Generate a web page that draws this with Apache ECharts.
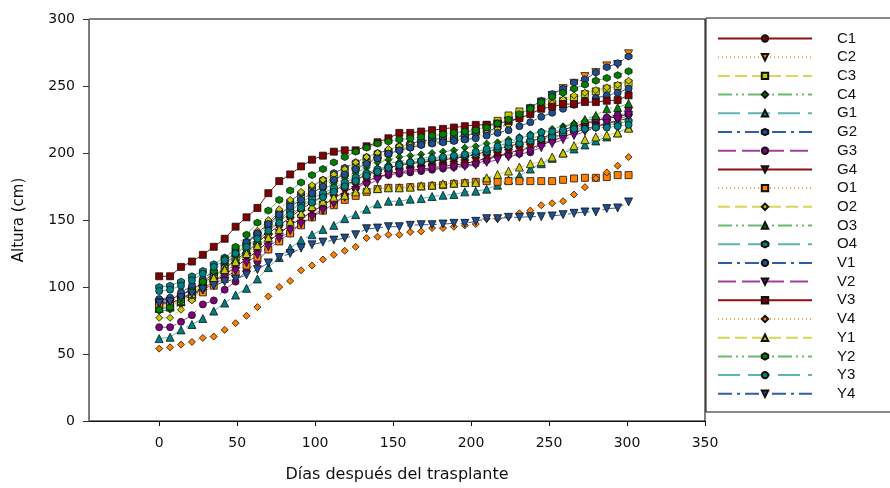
<!DOCTYPE html>
<html>
<head>
<meta charset="utf-8">
<script src="https://cdn.jsdelivr.net/npm/echarts@6/dist/echarts.min.js"></script>
<style>
  html, body { margin: 0; padding: 0; background: #fff; }
  #chart { width: 890px; height: 488px; }
</style>
</head>
<body>
<div id="chart"></div>
<script>
// days after transplant (x)
const days = [0, 7, 14, 21, 28, 35, 42, 49, 56, 63, 70, 77, 84, 91, 98, 105, 112, 119, 126, 133, 140, 147,
  154, 161, 168, 175, 182, 189, 196, 203, 210, 217, 224, 231, 238, 245, 252, 259, 266, 273, 280, 287, 294, 301];

const xTicks = [0, 50, 100, 150, 200, 250, 300, 350];
const yTicks = [0, 50, 100, 150, 200, 250, 300];

const names = ["C1", "C2", "C3", "C4", "G1", "G2", "G3", "G4", "O1", "O2", "O3", "O4", "V1", "V2", "V3", "V4", "Y1", "Y2", "Y3", "Y4"];

// altura (cm)
const C1 = [90, 91, 94, 98, 103, 108, 114, 120, 126, 133, 140, 146, 152, 158, 163, 168, 172, 176, 180, 184, 187, 189,
  191, 192, 193, 194, 195, 196, 197, 199, 201, 203, 205, 207, 209, 211, 214, 217, 220, 222, 224, 226, 227, 229];
const C2 = [85, 86, 89, 93, 98, 103, 109, 115, 122, 129, 137, 145, 153, 160, 166, 172, 177, 181, 186, 190, 194, 197,
  200, 204, 206, 209, 210, 212, 213, 215, 218, 221, 224, 228, 233, 238, 243, 248, 252, 257, 260, 265, 266, 274];
const C3 = [86, 87, 91, 96, 102, 108, 115, 122, 130, 138, 146, 154, 161, 167, 172, 177, 181, 185, 189, 193, 197, 200,
  203, 205, 207, 208, 209, 210, 211, 216, 221, 224, 228, 231, 233, 235, 237, 239, 241, 244, 246, 248, 250, 252];
const C4 = [82, 83, 87, 92, 98, 104, 111, 118, 126, 134, 142, 150, 157, 163, 168, 173, 177, 181, 185, 189, 193, 195,
  197, 198, 199, 200, 201, 202, 204, 205, 207, 208, 210, 212, 214, 216, 218, 220, 222, 224, 226, 227, 228, 230];
const G1 = [61.5, 62.5, 68, 72, 76.5, 82, 88, 94, 99, 106, 114.5, 122, 129, 135, 139, 143, 146, 151, 154, 158, 162, 164,
  164, 165.5, 166, 167.5, 168.5, 169, 171, 171.5, 173, 176, 180, 183, 188, 192, 196, 200, 203, 206, 209, 212, 215, 219];
const G2 = [89, 90, 94, 99, 104, 110, 117, 124, 132, 140, 148, 156, 164, 170, 175, 180, 185, 189, 193, 197, 200, 202,
  205, 207, 209, 210, 211, 212, 213, 215, 216, 219, 222, 227, 234, 239, 244, 248, 252.5, 255, 260, 264, 267, 272];
const G3 = [70, 70, 74, 79, 87, 90, 98, 104, 112, 119, 128, 134.5, 140, 147.5, 153, 158.5, 162.5, 168, 173.5, 178, 182, 183.5,
  184.5, 185.5, 186.5, 187.5, 188.5, 189.5, 191, 192, 194.5, 198, 198.5, 199.5, 200.5, 207, 209.5, 215.5, 218, 221.5, 225.5, 226.5, 228.5, 233.5];
const G4 = [87, 88, 91, 95, 99, 104, 109, 115, 121, 127, 134, 140, 146, 151, 156, 161, 166, 171, 175, 179, 182, 184.5,
  186, 187, 188, 189, 190, 191, 192, 194, 196, 198, 200, 202, 204, 206, 209, 212, 215, 218, 220, 222, 224, 226];
const O1 = [86, 87, 89, 92, 96, 101, 106, 110, 116, 122, 128, 134, 140, 146, 152, 157, 161, 165, 168, 171, 173, 174,
  174, 174.5, 175, 175.5, 176, 177, 177.5, 178.5, 179, 178.5, 179, 179, 179, 179, 179, 180, 181, 181.5, 181.5, 182, 183.5, 183.5];
const O2 = [77, 77, 83, 90, 98, 106, 115, 124, 133, 142, 150, 158, 165, 171, 176, 180, 184, 188, 193, 197, 200, 203,
  205, 206, 207, 208, 209, 210, 210.5, 212, 215, 218, 221, 225, 229, 234, 237, 240, 243, 245, 247, 249, 251, 254];
const O3 = [84, 85, 89, 95, 101, 107, 114, 121, 128, 135, 142, 149, 155, 160, 165, 170, 174, 178, 182, 186, 189, 192,
  194, 195, 196, 197, 198, 199, 200, 201, 203, 205, 207, 209, 211, 213, 216, 219, 222, 225, 228, 233, 234, 237];
const O4 = [100, 101, 104, 108, 112, 117, 122, 128, 134, 140, 146, 152, 157, 162, 166, 170, 174, 178, 182, 185, 188, 190,
  192, 193, 194, 195, 196, 197, 198, 199, 201, 203, 205, 207, 209, 210.5, 212, 214, 216, 218, 219, 221, 222, 224];
const V1 = [91, 92, 96, 101, 106, 112, 119, 126, 133, 140, 147, 154, 160, 165, 170, 175, 180, 184, 188, 192, 196, 199.5,
  202, 204, 206, 207, 208, 209, 210, 211, 213, 215, 217, 220, 223, 227, 230, 233, 236, 239, 241, 243, 245, 248];
const V2 = [88, 88, 91, 94, 98, 102, 107, 112, 118, 124, 130, 136, 142, 147, 152, 157, 162, 167, 172, 176, 180, 183.5,
  185, 186, 187, 188, 188.5, 189, 190, 191, 193, 195, 197, 199, 201, 204, 207, 210, 213, 216, 219, 222, 225, 228];
const V3 = [108, 108, 115, 119, 124, 130, 136, 145, 152, 159, 170, 179, 184, 190, 195, 198, 201, 202, 202, 205, 208, 211,
  215, 215, 216, 217, 218, 219, 220, 221, 221, 222, 224, 226, 229, 233, 234.5, 236.5, 236.5, 238, 238, 239, 239.5, 243];
const V4 = [54, 55, 57, 59, 62, 63, 68, 73, 78.5, 85, 93, 100, 104.5, 112.5, 116, 120.5, 124, 127, 130, 136.5, 137.5, 139,
  139, 141, 141.5, 144, 144, 145, 146, 147, 151, 151, 152.5, 155, 157, 161, 162.5, 164, 169, 174.5, 181, 185.5, 190.5, 197];
const Y1 = [85, 86, 90, 95, 101, 107, 113, 119, 125, 131, 137, 143, 149, 155, 160, 164, 167, 168.5, 171, 173, 173.5, 174,
  174, 174.5, 175.5, 176, 177, 177.5, 178, 178, 181.5, 184, 186.5, 189.5, 192, 193.5, 197, 200, 205.5, 210, 212, 213.5, 215, 218.5];
const Y2 = [83, 85, 90, 97, 104, 112, 121, 130, 139, 148, 157, 165, 172, 178, 183.5, 188, 193, 197, 201, 204, 207, 208.5,
  210, 211, 212, 213, 214, 215, 216, 217, 219, 222, 225, 229, 233, 238, 242, 245, 248, 251, 254, 256, 258, 261];
const Y3 = [97, 98, 101, 105, 110, 115, 120, 125, 130, 136, 142, 148, 154, 159, 163, 167, 171, 175, 179, 183, 186, 189,
  191, 193, 194, 196, 197, 198, 199, 201, 203, 205, 208, 211, 213, 215.5, 216, 217, 218, 218, 219, 219, 220, 221];
const Y4 = [88, 89, 92, 95, 98, 101, 104, 106, 109, 113, 118, 122, 125, 129, 131.5, 133.5, 135, 136.5, 139, 143.5, 144, 145,
  145, 146, 146.5, 146.5, 147, 147.5, 147.5, 149, 151, 151, 152, 152, 152.5, 152.5, 153, 154, 155, 156, 156, 158.5, 159, 163.5];

const allValues = [C1, C2, C3, C4, G1, G2, G3, G4, O1, O2, O3, O4, V1, V2, V3, V4, Y1, Y2, Y3, Y4];

// sigmaplot-like cycles: 7 colours / 7 line styles, 6 symbols
const markColors = ["#7f0000", "#ff8000", "#c8c800", "#007f00", "#008080", "#1f4f8f", "#800080"];
const lineColors = ["#8f1010", "#ffa040", "#d6d65a", "#6cba6c", "#5fb3b3", "#2f5f9f", "#a040a0"];
const dashes = ["solid", [1, 3], [12, 5], [14, 4, 2, 4, 2, 4], [22, 8], [14, 5, 3, 5], [18, 6]];
const downTri = "path://M0,0 L2,0 L1,1.8 Z";
const hexagon = "path://M1,0 L2,0.55 L2,1.65 L1,2.2 L0,1.65 L0,0.55 Z";
const symbols = ["circle", downTri, "rect", "diamond", "triangle", hexagon];

const chart = echarts.init(document.getElementById("chart"));

const series = names.map((name, i) => {
  const sym = symbols[i % 6];
  return {
    name: name,
    type: "line",
    data: days.map((d, k) => [d, allValues[i][k]]),
    symbol: sym,
    symbolSize: (sym === "triangle" || sym === downTri) ? 8 : 7,
    showAllSymbol: true,
    itemStyle: { color: markColors[i % 7], borderColor: "#111", borderWidth: 0.8 },
    lineStyle: { color: lineColors[i % 7], width: 1, type: dashes[i % 7] },
    emphasis: { disabled: true },
    animation: false
  };
});

chart.setOption({
  animation: false,
  textStyle: { fontFamily: "DejaVu Sans" },
  grid: { left: 89, right: 185, top: 19, bottom: 64, show: true, borderColor: "#000", borderWidth: 1, backgroundColor: "transparent" },
  xAxis: {
    type: "value",
    min: -45,
    max: 350,
    name: "Días después del trasplante",
    nameLocation: "middle",
    nameGap: 46,
    nameTextStyle: { fontSize: 16, color: "#111", fontFamily: "DejaVu Sans" },
    axisLine: { show: true, onZero: false, lineStyle: { color: "#111", width: 1 } },
    axisTick: { show: true, inside: false, length: 5, customValues: xTicks, lineStyle: { color: "#111" } },
    axisLabel: { customValues: xTicks, margin: 15, fontSize: 14, color: "#111", fontFamily: "DejaVu Sans" },
    splitLine: { show: false }
  },
  yAxis: {
    type: "value",
    min: 0,
    max: 300,
    interval: 50,
    name: "Altura (cm)",
    nameLocation: "middle",
    nameGap: 62,
    nameTextStyle: { fontSize: 15, color: "#111", fontFamily: "DejaVu Sans" },
    axisLine: { show: true, onZero: false, lineStyle: { color: "#777", width: 1 } },
    axisTick: { show: true, inside: false, length: 6, lineStyle: { color: "#333" } },
    axisLabel: { margin: 14, fontSize: 14, color: "#111", fontFamily: "DejaVu Sans" },
    splitLine: { show: false }
  },
  legend: {
    data: names,
    orient: "vertical",
    left: 717,
    top: 31,
    padding: 0,
    itemWidth: 94,
    itemHeight: 8,
    itemGap: 3.7,
    selectedMode: false,
    textStyle: { fontSize: 15, lineHeight: 14, color: "#111", fontFamily: "Liberation Sans", padding: [0, 0, 0, 20] }
  },
  graphic: [{
    type: "rect",
    shape: { x: 706, y: 18, width: 200, height: 394 },
    style: { fill: "#fff", stroke: "#111", lineWidth: 1 },
    z: -1
  }],
  series: series
});
</script>
</body>
</html>
